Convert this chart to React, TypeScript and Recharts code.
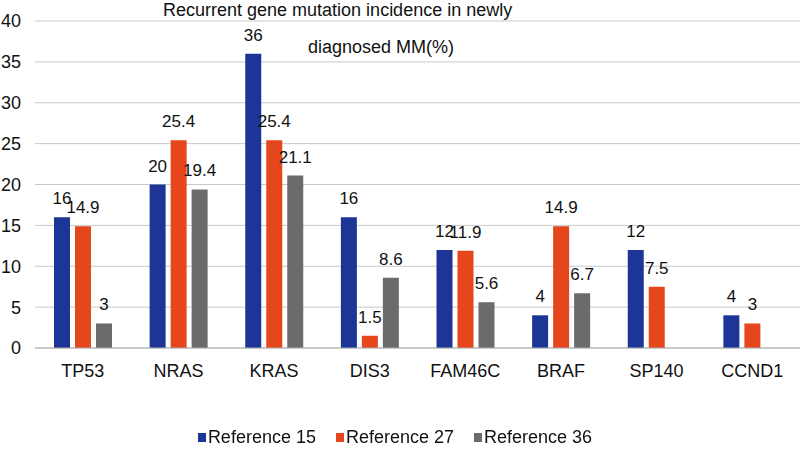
import { BarChart, Bar, XAxis, YAxis, CartesianGrid, Legend, LabelList } from "recharts"

const genes = ["TP53", "NRAS", "KRAS", "DIS3", "FAM46C", "BRAF", "SP140", "CCND1"]
const ref15 = [16, 20, 36, 16, 12, 4, 12, 4]
const ref27 = [14.9, 25.4, 25.4, 1.5, 11.9, 14.9, 7.5, 3]
const ref36: (number | null)[] = [3, 19.4, 21.1, 8.6, 5.6, 6.7, null, null]
const yTicks = [0, 5, 10, 15, 20, 25, 30, 35, 40]

const series = [
  { key: "r15", name: "Reference 15", color: "#1c3596" },
  { key: "r27", name: "Reference 27", color: "#e6461b" },
  { key: "r36", name: "Reference 36", color: "#6b6b6b" },
]

const data = genes.map((g, i) => ({ gene: g, r15: ref15[i], r27: ref27[i], r36: ref36[i] }))

const font = "'Liberation Sans', Arial, sans-serif"

function LegendBox() {
  return (
    <div style={{ display: "flex", justifyContent: "center", alignItems: "center", height: 20, marginLeft: -20, fontSize: 18, fontFamily: font, color: "#111" }}>
      {series.map((s) => (
        <div key={s.key} style={{ display: "flex", alignItems: "center", margin: "0 10px" }}>
          <span style={{ display: "inline-block", width: 8, height: 9, background: s.color, marginRight: 2 }} />
          <span>{s.name}</span>
        </div>
      ))}
    </div>
  )
}

export default function App() {
  return (
    <div style={{ position: "fixed", left: 0, top: 0, width: 810, height: 450, background: "#fff", fontFamily: font }}>
      <BarChart
        width={810}
        height={450}
        data={data}
        margin={{ top: 21, right: 10, left: 0, bottom: 42 }}
        barSize={16}
        barGap={5}
      >
        <CartesianGrid vertical={false} stroke="#c8c8c8" />
        <XAxis
          dataKey="gene"
          tickLine={false}
          axisLine={{ stroke: "#b0b0b0" }}
          tick={{ fill: "#111", fontSize: 18, fontFamily: font }}
          tickMargin={10}
          height={40}
        />
        <YAxis
          width={35}
          domain={[0, 40]}
          ticks={yTicks}
          axisLine={false}
          tickLine={false}
          tickMargin={8}
          tick={{ fill: "#111", fontSize: 18, fontFamily: font }}
        />
        <Legend
          verticalAlign="bottom"
          content={() => <LegendBox />}
          wrapperStyle={{ left: 0, width: 810, bottom: 3 }}
        />
        {series.map((s) => (
          <Bar key={s.key} dataKey={s.key} name={s.name} fill={s.color} isAnimationActive={false}>
            <LabelList
              dataKey={s.key}
              position="top"
              offset={13}
              style={{ fill: "#111", fontSize: 17, fontFamily: font }}
              formatter={(v: any) => (v == null ? "" : v)}
            />
          </Bar>
        ))}
      </BarChart>
      <div style={{ position: "absolute", left: 163, top: 0, fontSize: 18, color: "#111", whiteSpace: "nowrap" }}>
        Recurrent gene mutation incidence in newly
      </div>
      <div style={{ position: "absolute", left: 308, top: 37, fontSize: 18, color: "#111", whiteSpace: "nowrap" }}>
        diagnosed MM(%)
      </div>
    </div>
  )
}
